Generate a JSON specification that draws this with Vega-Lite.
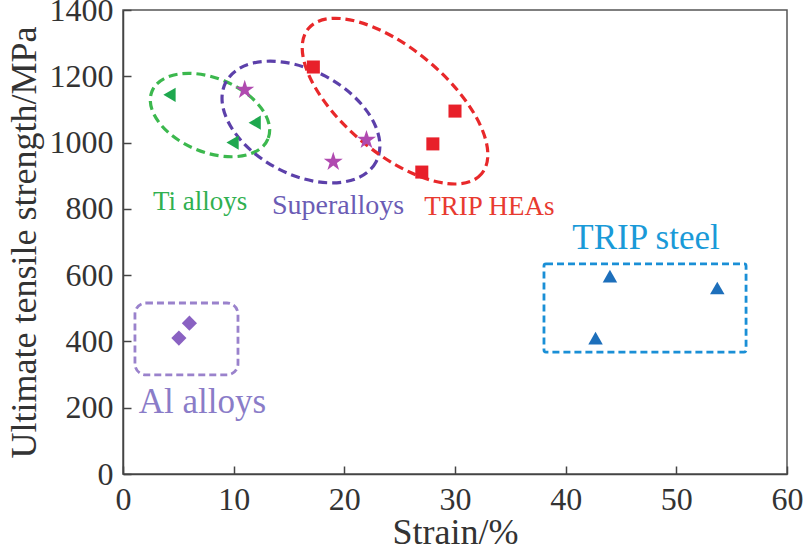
{
  "$schema": "https://vega.github.io/schema/vega-lite/v6.json",
  "width": 664,
  "height": 464,
  "autosize": {"type": "none"},
  "padding": {"left": 123, "top": 10, "right": 17, "bottom": 80},
  "background": "white",
  "datasets": {
    "points": [
      {"group": "Ti alloys", "strain": 4.2, "uts": 1144},
      {"group": "Ti alloys", "strain": 11.9, "uts": 1060},
      {"group": "Ti alloys", "strain": 9.9, "uts": 1000},
      {"group": "Superalloys", "strain": 11.0, "uts": 1159},
      {"group": "Superalloys", "strain": 22.0, "uts": 1008},
      {"group": "Superalloys", "strain": 19.0, "uts": 942},
      {"group": "TRIP HEAs", "strain": 17.2, "uts": 1228},
      {"group": "TRIP HEAs", "strain": 30.0, "uts": 1095},
      {"group": "TRIP HEAs", "strain": 28.0, "uts": 996},
      {"group": "TRIP HEAs", "strain": 27.0, "uts": 911},
      {"group": "TRIP steel", "strain": 44.0, "uts": 597},
      {"group": "TRIP steel", "strain": 53.7, "uts": 561},
      {"group": "TRIP steel", "strain": 42.7, "uts": 410},
      {"group": "Al alloys", "strain": 6.0, "uts": 455},
      {"group": "Al alloys", "strain": 5.05, "uts": 410}
    ],
    "ellipses": [
      {"group": "Ti alloys", "strain": 7.86, "uts": 1083},
      {"group": "Superalloys", "strain": 16.08, "uts": 1062},
      {"group": "TRIP HEAs", "strain": 24.58, "uts": 1125}
    ],
    "boxes": [
      {"group": "Al alloys", "x1": 1.08, "x2": 10.39, "y1": 299, "y2": 516},
      {"group": "TRIP steel", "x1": 38.04, "x2": 56.3, "y1": 368, "y2": 634}
    ],
    "labels": [
      {"group": "Ti alloys", "text": "Ti alloys", "strain": 6.96, "uts": 797},
      {"group": "Superalloys", "text": "Superalloys", "strain": 19.43, "uts": 785},
      {"group": "TRIP HEAs", "text": "TRIP HEAs", "strain": 33.1, "uts": 781},
      {"group": "TRIP steel", "text": "TRIP steel", "strain": 47.26, "uts": 679},
      {"group": "Al alloys", "text": "Al alloys", "strain": 7.18, "uts": 184}
    ]
  },
  "encoding": {
    "x": {"field": "strain", "type": "quantitative", "scale": {"domain": [0, 60], "nice": false},
      "axis": {"title": "Strain/%", "values": [0, 10, 20, 30, 40, 50, 60], "grid": false, "format": "d",
        "labelFont": "Liberation Serif", "labelFontSize": 32, "labelFontWeight": "normal"}},
    "y": {"field": "uts", "type": "quantitative", "scale": {"domain": [0, 1400], "nice": false},
      "axis": {"title": "Ultimate tensile strength/MPa", "values": [0, 200, 400, 600, 800, 1000, 1200, 1400], "grid": false, "format": "d",
        "labelFont": "Liberation Serif", "labelFontSize": 32, "labelFontWeight": "normal"}}
  },
  "layer": [
    {
      "data": {"name": "ellipses"},
      "transform": [{"filter": "datum.group === 'Ti alloys'"}],
      "mark": {"type": "point", "shape": "M58.01,23.79 C50.26,42.70 18.00,47.37 -14.04,34.23 C-46.08,21.09 -65.76,-4.89 -58.01,-23.79 C-50.26,-42.70 -18.00,-47.37 14.04,-34.23 C46.08,-21.09 65.76,4.89 58.01,23.79 Z",
        "size": 4, "filled": false, "stroke": "#3cb84e", "strokeWidth": 3.2, "strokeDash": [9, 5], "opacity": 1}
    },
    {
      "data": {"name": "ellipses"},
      "transform": [{"filter": "datum.group === 'Superalloys'"}],
      "mark": {"type": "point", "shape": "M75.05,39.91 C61.57,65.27 17.04,67.95 -24.41,45.91 C-65.86,23.87 -88.53,-14.55 -75.05,-39.91 C-61.57,-65.27 -17.04,-67.95 24.41,-45.91 C65.86,-23.87 88.53,14.55 75.05,39.91 Z",
        "size": 4, "filled": false, "stroke": "#5c40aa", "strokeWidth": 3.2, "strokeDash": [9, 5], "opacity": 1}
    },
    {
      "data": {"name": "ellipses"},
      "transform": [{"filter": "datum.group === 'TRIP HEAs'"}],
      "mark": {"type": "point", "shape": "M86.56,72.64 C68.10,94.64 14.38,79.95 -33.43,39.83 C-81.24,-0.29 -105.02,-50.64 -86.56,-72.64 C-68.10,-94.64 -14.38,-79.95 33.43,-39.83 C81.24,0.29 105.02,50.64 86.56,72.64 Z",
        "size": 4, "filled": false, "stroke": "#e8282a", "strokeWidth": 3.2, "strokeDash": [9, 5], "opacity": 1}
    },
    {
      "data": {"name": "boxes"},
      "transform": [{"filter": "datum.group === 'Al alloys'"}],
      "mark": {"type": "rect", "fill": null, "fillOpacity": 0, "stroke": "#9a82cc", "strokeWidth": 2.8, "strokeDash": [7, 4], "cornerRadius": 11},
      "encoding": {
        "x": {"field": "x1", "type": "quantitative"}, "x2": {"field": "x2"},
        "y": {"field": "y1", "type": "quantitative"}, "y2": {"field": "y2"}
      }
    },
    {
      "data": {"name": "boxes"},
      "transform": [{"filter": "datum.group === 'TRIP steel'"}],
      "mark": {"type": "rect", "fill": null, "fillOpacity": 0, "stroke": "#1a8fd6", "strokeWidth": 2.8, "strokeDash": [7, 4], "cornerRadius": 2},
      "encoding": {
        "x": {"field": "x1", "type": "quantitative"}, "x2": {"field": "x2"},
        "y": {"field": "y1", "type": "quantitative"}, "y2": {"field": "y2"}
      }
    },
    {
      "data": {"name": "points"},
      "mark": {"type": "point", "filled": true, "opacity": 1, "strokeWidth": 0},
      "encoding": {
        "shape": {"field": "group", "type": "nominal", "legend": null,
          "scale": {"domain": ["Ti alloys", "Superalloys", "TRIP HEAs", "TRIP steel", "Al alloys"],
            "range": ["triangle-left", "M0,-1 L0.2245,-0.309 L0.951,-0.309 L0.3633,0.118 L0.5878,0.809 L0,0.382 L-0.5878,0.809 L-0.3633,0.118 L-0.951,-0.309 L-0.2245,-0.309 Z", "square", "triangle-up", "diamond"]}},
        "color": {"field": "group", "type": "nominal", "legend": null,
          "scale": {"domain": ["Ti alloys", "Superalloys", "TRIP HEAs", "TRIP steel", "Al alloys"],
            "range": ["#1fa84f", "#b04ab0", "#e8202a", "#1d6fbb", "#8a62c2"]}},
        "size": {"field": "group", "type": "nominal", "legend": null,
          "scale": {"type": "ordinal", "domain": ["Ti alloys", "Superalloys", "TRIP HEAs", "TRIP steel", "Al alloys"],
            "range": [200, 400, 170, 210, 230]}}
      }
    },
    {
      "data": {"name": "labels"},
      "mark": {"type": "text", "font": "Liberation Serif", "fontWeight": "normal", "align": "center", "baseline": "alphabetic"},
      "encoding": {
        "text": {"field": "text"},
        "color": {"field": "group", "type": "nominal", "legend": null,
          "scale": {"domain": ["Ti alloys", "Superalloys", "TRIP HEAs", "TRIP steel", "Al alloys"],
            "range": ["#30b050", "#6b5cb5", "#e83a30", "#1a9ad8", "#8a7cc8"]}},
        "size": {"field": "group", "type": "nominal", "legend": null,
          "scale": {"type": "ordinal", "domain": ["Ti alloys", "Superalloys", "TRIP HEAs", "TRIP steel", "Al alloys"],
            "range": [27, 28, 27, 35, 35]}}
      }
    }
  ],
  "resolve": {"scale": {"color": "independent", "size": "independent", "shape": "independent"}},
  "config": {
    "view": {"stroke": "#555", "strokeWidth": 1.5},
    "axis": {
      "domainColor": "#444", "domainWidth": 1.5,
      "tickColor": "#444", "tickWidth": 1.5, "tickSize": -8,
      "labelFont": "Liberation Serif", "labelFontSize": 32, "labelColor": "#333", "labelPadding": 18,
      "labelFlush": false, "labelOverlap": false,
      "titleFont": "Liberation Serif", "titleFontSize": 36, "titleFontWeight": "normal", "titleColor": "#333"
    },
    "axisX": {"titlePadding": 0},
    "axisY": {"titlePadding": 6}
  }
}
